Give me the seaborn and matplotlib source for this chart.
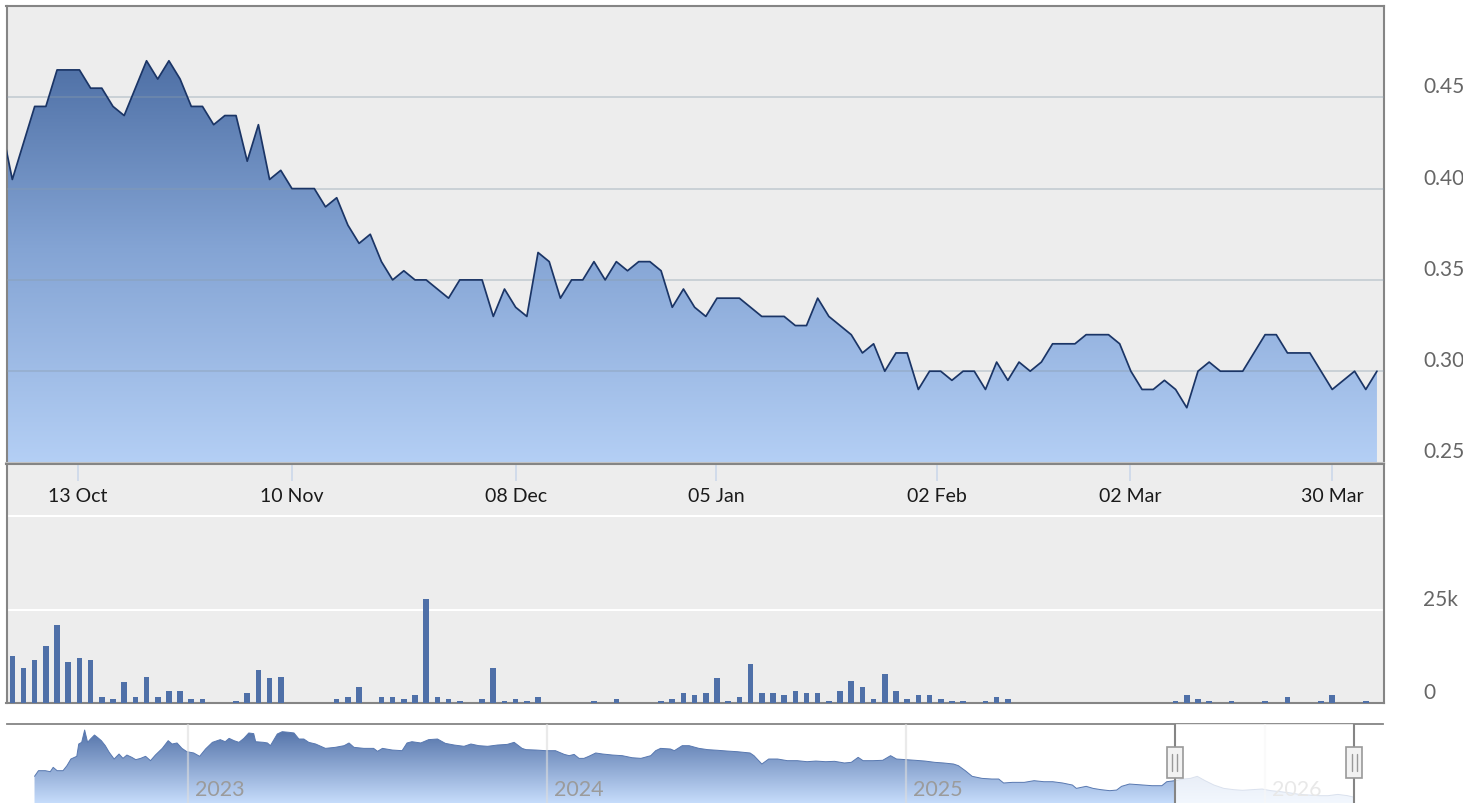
import numpy as np
import pandas as pd
import matplotlib
matplotlib.use("Agg")
import matplotlib.pyplot as plt
import matplotlib.dates as mdates
import matplotlib.transforms as mtransforms
from matplotlib.colors import LinearSegmentedColormap
from matplotlib.patches import Rectangle
from matplotlib.lines import Line2D
import seaborn as sns

sns.set_style("white")
plt.rcParams['font.family'] = ['Lato', 'DejaVu Sans']


# Daily close (one value per trading session, oldest first)
price = [0.435, 0.405, 0.425, 0.445, 0.445, 0.465, 0.465, 0.465, 0.455, 0.455,
         0.445, 0.44, 0.455, 0.47, 0.46, 0.47, 0.46, 0.445, 0.445, 0.435,
         0.44, 0.44, 0.415, 0.435, 0.405, 0.41, 0.40, 0.40, 0.40, 0.39,
         0.395, 0.38, 0.37, 0.375, 0.36, 0.35, 0.355, 0.35, 0.35, 0.345,
         0.34, 0.35, 0.35, 0.35, 0.33, 0.345, 0.335, 0.33, 0.365, 0.36,
         0.34, 0.35, 0.35, 0.36, 0.35, 0.36, 0.355, 0.36, 0.36, 0.355,
         0.335, 0.345, 0.335, 0.33, 0.34, 0.34, 0.34, 0.335, 0.33, 0.33,
         0.33, 0.325, 0.325, 0.34, 0.33, 0.325, 0.32, 0.31, 0.315, 0.30,
         0.31, 0.31, 0.29, 0.30, 0.30, 0.295, 0.30, 0.30, 0.29, 0.305,
         0.295, 0.305, 0.30, 0.305, 0.315, 0.315, 0.315, 0.32, 0.32, 0.32,
         0.315, 0.30, 0.29, 0.29, 0.295, 0.29, 0.28, 0.30, 0.305, 0.30,
         0.30, 0.30, 0.31, 0.32, 0.32, 0.31, 0.31, 0.31, 0.30, 0.29,
         0.295, 0.30, 0.29, 0.30]

# Daily volume, thousands of shares
volume_k = [9.0, 12.6, 9.3, 11.5, 15.3, 20.8, 10.9, 12.0, 11.5, 1.6,
            1.1, 5.5, 1.6, 7.1, 1.6, 3.3, 3.3, 1.1, 1.1, 0,
            0, 0.5, 2.7, 8.8, 6.6, 7.1, 0, 0, 0, 0,
            1.1, 1.6, 4.4, 0, 1.6, 1.6, 1.1, 2.2, 27.9, 1.6,
            1.1, 0.5, 0, 1.1, 9.3, 0.5, 1.1, 0.5, 1.6, 0,
            0, 0, 0, 0.5, 0, 1.1, 0, 0, 0, 0.5,
            1.1, 2.7, 2.2, 2.7, 6.6, 0.5, 1.6, 10.4, 2.7, 2.7,
            2.2, 3.3, 2.7, 2.7, 0.5, 3.3, 6.0, 4.4, 1.1, 7.7,
            3.3, 1.1, 2.2, 2.2, 1.1, 0.5, 0.5, 0, 0.5, 1.6,
            1.1, 0, 0, 0, 0, 0, 0, 0, 0, 0,
            0, 0, 0, 0, 0, 0.5, 2.2, 1.1, 0.5, 0,
            0.5, 0, 0, 0.5, 0, 1.6, 0, 0, 0.5, 2.2,
            0, 0, 0.5, 0]

# Weekly date ticks (position in sessions)
tick_labels = ["13 Oct", "10 Nov", "08 Dec", "05 Jan", "02 Feb", "02 Mar", "30 Mar"]
tick_pos = [6.85, 26.0, 46.0, 63.9, 83.7, 100.9, 119.0]

price_ticks = [0.25, 0.30, 0.35, 0.40, 0.45]
price_tick_labels = ["0.25", "0.30", "0.35", "0.40", "0.45"]
volume_ticks = [0, 25]
volume_tick_labels = ["0", "25k"]

# Navigator: full history
nav_dates = ["2022-07-29", "2022-08-02", "2022-08-09", "2022-08-14", "2022-08-17", "2022-08-21",
             "2022-08-27", "2022-08-31", "2022-09-04", "2022-09-10", "2022-09-12", "2022-09-15",
             "2022-09-18", "2022-09-21", "2022-09-24", "2022-09-28", "2022-10-01", "2022-10-05",
             "2022-10-09", "2022-10-13", "2022-10-18", "2022-10-23", "2022-10-27", "2022-10-31",
             "2022-11-05", "2022-11-09", "2022-11-14", "2022-11-19", "2022-11-24", "2022-11-29",
             "2022-12-06", "2022-12-12", "2022-12-16", "2022-12-21", "2022-12-26", "2022-12-31",
             "2023-01-07", "2023-01-13", "2023-01-19", "2023-01-26", "2023-02-03", "2023-02-08",
             "2023-02-12", "2023-02-17", "2023-02-22", "2023-02-27", "2023-03-04", "2023-03-09",
             "2023-03-11", "2023-03-19", "2023-03-23", "2023-03-26", "2023-04-02", "2023-04-07",
             "2023-04-14", "2023-04-19", "2023-04-24", "2023-04-29", "2023-05-04", "2023-05-11",
             "2023-05-21", "2023-05-31", "2023-06-09", "2023-06-14", "2023-06-19", "2023-06-29",
             "2023-07-09", "2023-07-13", "2023-07-18", "2023-07-28", "2023-08-07", "2023-08-12",
             "2023-08-17", "2023-08-26", "2023-09-03", "2023-09-12", "2023-09-20", "2023-09-29",
             "2023-10-09", "2023-10-16", "2023-10-24", "2023-11-02", "2023-11-12", "2023-11-22",
             "2023-11-29", "2023-12-07", "2023-12-11", "2023-12-21", "2023-12-31", "2024-01-10",
             "2024-01-19", "2024-01-24", "2024-01-29", "2024-02-03", "2024-02-08", "2024-02-13",
             "2024-02-20", "2024-02-27", "2024-03-08", "2024-03-18", "2024-03-28", "2024-04-06",
             "2024-04-16", "2024-04-21", "2024-04-26", "2024-05-06", "2024-05-10", "2024-05-18",
             "2024-05-25", "2024-06-04", "2024-06-13", "2024-06-23", "2024-07-03", "2024-07-13",
             "2024-07-26", "2024-07-30", "2024-08-07", "2024-08-14", "2024-08-23", "2024-09-02",
             "2024-09-12", "2024-09-22", "2024-10-01", "2024-10-11", "2024-10-20", "2024-10-30",
             "2024-11-06", "2024-11-13", "2024-11-18", "2024-11-28", "2024-12-08", "2024-12-16",
             "2024-12-22", "2025-01-01", "2025-01-10", "2025-01-20", "2025-01-30", "2025-02-08",
             "2025-02-18", "2025-02-23", "2025-03-02", "2025-03-09", "2025-03-19", "2025-03-29",
             "2025-04-05", "2025-04-10", "2025-04-19", "2025-05-01", "2025-05-11", "2025-05-21",
             "2025-05-30", "2025-06-09", "2025-06-19", "2025-06-23", "2025-07-03", "2025-07-10",
             "2025-07-18", "2025-07-27", "2025-08-03", "2025-08-08", "2025-08-16", "2025-08-30",
             "2025-09-08", "2025-09-18", "2025-09-23", "2025-10-01", "2025-10-10", "2025-10-17",
             "2025-10-24", "2025-11-01", "2025-11-10", "2025-11-20", "2025-11-30", "2025-12-09",
             "2025-12-19", "2025-12-29", "2026-01-07", "2026-01-17", "2026-01-27", "2026-02-05",
             "2026-02-15", "2026-02-25", "2026-03-06", "2026-03-16", "2026-03-26", "2026-04-02"]
nav_price = [0.464, 0.508, 0.508, 0.500, 0.534, 0.508,
             0.508, 0.547, 0.599, 0.620, 0.716, 0.729,
             0.825, 0.729, 0.755, 0.786, 0.768, 0.742,
             0.703, 0.651, 0.599, 0.638, 0.604, 0.630,
             0.612, 0.594, 0.604, 0.620, 0.586, 0.630,
             0.682, 0.742, 0.716, 0.724, 0.682, 0.656,
             0.646, 0.620, 0.677, 0.729, 0.750, 0.734,
             0.760, 0.742, 0.729, 0.760, 0.802, 0.797,
             0.734, 0.729, 0.724, 0.703, 0.794, 0.812,
             0.807, 0.802, 0.755, 0.755, 0.729, 0.716,
             0.682, 0.690, 0.703, 0.724, 0.690, 0.682,
             0.682, 0.659, 0.682, 0.669, 0.664, 0.724,
             0.734, 0.724, 0.750, 0.755, 0.721, 0.708,
             0.698, 0.716, 0.703, 0.698, 0.708, 0.713,
             0.729, 0.682, 0.672, 0.669, 0.664, 0.664,
             0.635, 0.625, 0.635, 0.604, 0.604, 0.620,
             0.646, 0.638, 0.630, 0.625, 0.609, 0.604,
             0.625, 0.664, 0.682, 0.677, 0.664, 0.703,
             0.703, 0.682, 0.672, 0.667, 0.661, 0.656,
             0.646, 0.625, 0.560, 0.599, 0.599, 0.586,
             0.586, 0.578, 0.583, 0.578, 0.581, 0.568,
             0.573, 0.612, 0.586, 0.586, 0.589, 0.625,
             0.599, 0.594, 0.589, 0.583, 0.573, 0.568,
             0.560, 0.547, 0.508, 0.464, 0.448, 0.443,
             0.443, 0.412, 0.417, 0.417, 0.430, 0.422,
             0.422, 0.412, 0.396, 0.370, 0.386, 0.370,
             0.360, 0.352, 0.357, 0.386, 0.404, 0.396,
             0.391, 0.391, 0.422, 0.430, 0.443, 0.448,
             0.464, 0.430, 0.396, 0.370, 0.360, 0.355,
             0.360, 0.365, 0.352, 0.344, 0.334, 0.323,
             0.318, 0.313, 0.313, 0.323, 0.313, 0.300]
nav_years = ["2023", "2024", "2025", "2026"]
sel_start, sel_end = "2025-10-01", "2026-04-02"


# Layout (pixels)
W, H = 1482, 804
fig = plt.figure(figsize=(W / 100, H / 100), dpi=100)
fig.patch.set_facecolor("white")


def box(left, top, right, bottom):
    return [left / W, 1 - bottom / H, (right - left) / W, (bottom - top) / H]


def gradient_under(ax, x, y, base, stops, z):
    # fill under the curve with a vertical gradient spanning the axes
    poly = ax.fill_between(x, y, base, facecolor="none", edgecolor="none")
    cmap = LinearSegmentedColormap.from_list("g", stops)
    x0, x1 = ax.get_xlim()
    y0, y1 = ax.get_ylim()
    im = ax.imshow(np.linspace(0, 1, 256).reshape(-1, 1), cmap=cmap, aspect="auto",
                   extent=[x0, x1, y0, y1], origin="upper", zorder=z, interpolation="bilinear")
    im.set_clip_path(poly.get_paths()[0], transform=ax.transData)
    ax.set_xlim(x0, x1)
    ax.set_ylim(y0, y1)


border = "#858585"
idx = np.arange(len(price))
x_lo, x_hi = 0.48, len(price) - 1 + 0.63

# Price panel
ax_p = fig.add_axes(box(6.5, 7, 1384, 463.5))
ax_p.set_facecolor("#ededed")
ax_p.set_xlim(x_lo, x_hi)
ax_p.set_ylim(0.25, 0.50)
gradient_under(ax_p, idx, price, 0.25,
               [(0, "#3f6198"), (0.53, "#84a4d4"), (1, "#b4cff5")], 1)
sns.lineplot(x=idx, y=price, ax=ax_p, color="#1b3566", linewidth=1.25, zorder=4)
ax_p.set_yticks(price_ticks[1:])
ax_p.set_xticks([])
ax_p.grid(axis="y", color="#8a9cab", alpha=0.45, linewidth=1.1)
ax_p.set_axisbelow(False)
ax_p.tick_params(length=0, labelleft=False, labelbottom=False)
ax_p.set_xlabel("")
ax_p.set_ylabel("")
for s in ["top", "left", "right"]:
    ax_p.spines[s].set_color(border)
    ax_p.spines[s].set_linewidth(1.5)
ax_p.spines["bottom"].set_color("#c4c4c4")
ax_p.spines["bottom"].set_linewidth(1.5)

# Volume panel (its top strip carries the date labels)
ax_v = fig.add_axes(box(6.5, 465.2, 1384, 704))
ax_v.set_facecolor("#ededed")
sns.barplot(x=idx, y=volume_k, ax=ax_v, color="#4f70a8", width=0.5,
            saturation=1, native_scale=True, linewidth=0, edgecolor="none", zorder=3)
ax_v.set_xlim(x_lo, x_hi)
ax_v.set_ylim(0, 64.0)
ax_v.set_yticks([25, 50])
ax_v.grid(axis="y", color="white", linewidth=1.5)
ax_v.grid(axis="x", visible=False)
ax_v.set_axisbelow(True)
ax_v.set_xticks(tick_pos)
ax_v.tick_params(axis="x", direction="in", top=True, bottom=False, length=12.2, width=1.1,
                 color="#c9d6ea", labelbottom=False, labeltop=False)
ax_v.tick_params(axis="y", length=0, labelleft=False)
ax_v.set_xlabel("")
ax_v.set_ylabel("")
for s in ax_v.spines.values():
    s.set_color(border)
    s.set_linewidth(1.5)

band = mtransforms.blended_transform_factory(ax_v.transData, ax_v.transAxes)
for p, lab in zip(tick_pos, tick_labels):
    ax_v.text(p, (704 - 502.3) / (704 - 465.2), lab, transform=band, ha="center",
              va="baseline", fontsize=14, color="#1a1a1a")

# Right-hand value labels (clipped at the chart edge like the original)
clip = mtransforms.TransformedBbox(mtransforms.Bbox.from_extents(0, 0, 1463 / W, 1), fig.transFigure)
lift = mtransforms.ScaledTranslation(0, 5 / 100, fig.dpi_scale_trans)
for ax, vals, labs in [(ax_p, price_ticks, price_tick_labels), (ax_v, volume_ticks, volume_tick_labels)]:
    tr = mtransforms.blended_transform_factory(fig.transFigure, ax.transData) + lift
    for v, lab in zip(vals, labs):
        t = fig.text(1423 / W, v, lab, transform=tr, ha="left", va="baseline",
                     fontsize=15, color="#666666")
        t.set_clip_box(clip)
        t.set_clip_on(True)

# Navigator
nav_dt = pd.to_datetime(nav_dates)
ax_n = fig.add_axes(box(7, 725, 1383, 804))
ax_n.set_facecolor("white")
ax_n.set_xlim(mdates.date2num(pd.Timestamp("2022-07-01")), mdates.date2num(pd.Timestamp("2026-05-01")))
ax_n.set_ylim(0.256, 0.872)
gradient_under(ax_n, mdates.date2num(nav_dt), nav_price, 0.256,
               [(0, "#4a6aa2"), (1, "#c6dcfb")], 1)
sns.lineplot(x=mdates.date2num(nav_dt), y=nav_price, ax=ax_n, color="#5878b0", linewidth=0.7, zorder=2)
year_dt = mdates.date2num(pd.to_datetime([y + "-01-01" for y in nav_years]))
ax_n.set_xticks(year_dt)
ax_n.grid(axis="x", color="#dcdcdc", alpha=0.6, linewidth=1.6, zorder=2.5)
ax_n.grid(axis="y", visible=False)
ax_n.set_axisbelow(False)
ax_n.tick_params(length=0, labelbottom=False, labelleft=False)
ax_n.set_xlabel("")
ax_n.set_ylabel("")
for s in ["left", "right", "bottom"]:
    ax_n.spines[s].set_visible(False)
ax_n.spines["top"].set_color(border)
ax_n.spines["top"].set_linewidth(1.3)

ytr = mtransforms.blended_transform_factory(ax_n.transData, fig.transFigure)
shift = mtransforms.ScaledTranslation(7 / 100, 0, fig.dpi_scale_trans)
for xd, lab in zip(year_dt, nav_years):
    ax_n.text(xd, 1 - 796 / H, lab, transform=ytr + shift, ha="left", va="baseline",
              fontsize=15.5, color="#9b9b9b", zorder=3)

s0 = mdates.date2num(pd.Timestamp(sel_start))
s1 = mdates.date2num(pd.Timestamp(sel_end))
ax_n.axvspan(s0, s1, facecolor="white", alpha=0.78, zorder=5, linewidth=0)
for xd in [s0, s1]:
    ax_n.axvline(xd, color=border, linewidth=1.5, zorder=6)

# Navigator handles drawn in pixel space
fig.canvas.draw()
for xd in [s0, s1]:
    px = ax_n.transData.transform((xd, 0.5))[0]
    fig.add_artist(Rectangle(((px - 8) / W, 1 - 779 / H), 16 / W, 31 / H, transform=fig.transFigure,
                             facecolor="#f2f2f2", edgecolor="#999999", linewidth=1.2, zorder=10))
    for dx in [-2.5, 2.5]:
        fig.add_artist(Line2D([(px + dx) / W] * 2, [1 - 772 / H, 1 - 755 / H], transform=fig.transFigure,
                              color="#999999", linewidth=1.0, zorder=11))

plt.savefig("out.png", dpi=100, facecolor="white")
